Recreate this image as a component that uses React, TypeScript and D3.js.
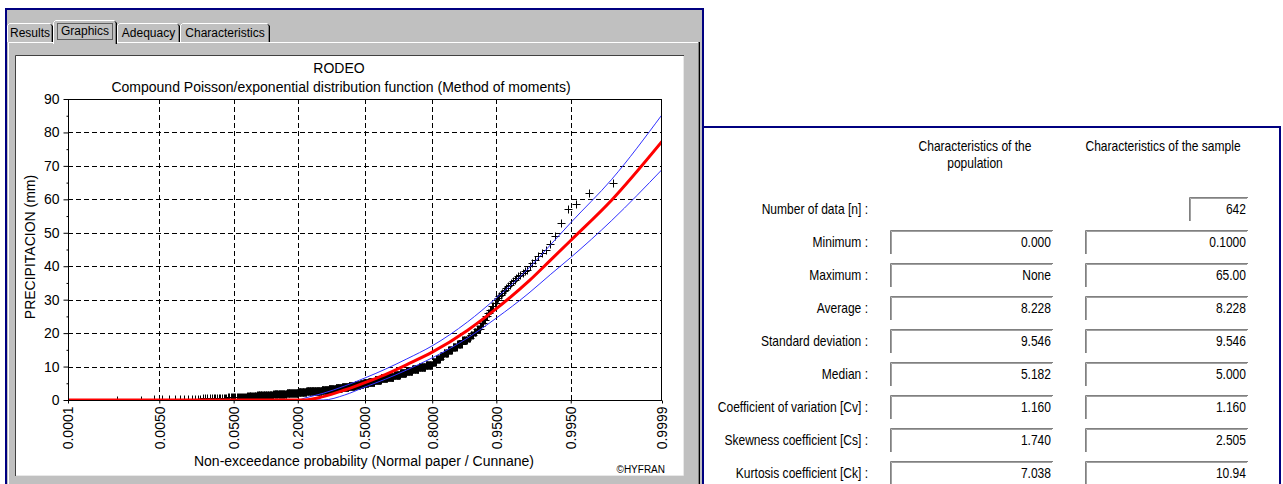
import * as React from "react"
import * as d3 from "d3"

const chartTitle = "RODEO"
const chartSubtitle =
  "Compound Poisson/exponential distribution function (Method of moments)"
const yTitle = "PRECIPITACION (mm)"
const xTitle = "Non-exceedance probability (Normal paper / Cunnane)"

const xTickProbs = [0.0001, 0.005, 0.05, 0.2, 0.5, 0.8, 0.95, 0.995, 0.9999]
const xTickLabels = [
  "0.0001",
  "0.0050",
  "0.0500",
  "0.2000",
  "0.5000",
  "0.8000",
  "0.9500",
  "0.9950",
  "0.9999",
]
const yTicks = [0, 10, 20, 30, 40, 50, 60, 70, 80, 90]
const yMinorTicks = [5, 15, 25, 35, 45, 55, 65, 75, 85]

// observed sample (mm), sorted, as value / count runs -> n = 642
const sampleValues = [
  0.1, 0.2, 0.3, 0.4, 0.5, 0.6, 0.7, 0.8, 0.9,
  1.0, 1.2, 1.4, 1.5, 1.7, 1.9, 2.0, 2.2,
  2.4, 2.6, 2.8, 3.0, 3.3, 3.6, 3.9, 4.2, 4.5, 4.8,
  5.0, 5.5, 6.0, 6.5, 7.0, 7.5, 8.0, 8.6, 9.2, 9.8, 10.5,
  11.5, 12.3, 13.1, 14.0, 14.9, 15.8, 16.8, 17.8,
  18.5, 19.3, 20.2, 21.2,
  22, 23, 24, 25, 26, 27, 28, 29,
  30, 30.5, 31, 31.5, 32, 32.5, 33, 33.5, 34, 34.5, 35, 35.5, 36, 36.5, 37,
  37.5, 38, 38.5, 39, 40, 41, 42, 43, 44, 45, 46.5, 49, 53, 57, 58.6, 62, 65,
]
const sampleCounts = [
  2, 3, 4, 4, 6, 4, 4, 3, 2,
  12, 12, 12, 12, 12, 12, 12, 12,
  20, 20, 20, 20, 20, 20, 20, 20, 17, 10,
  16, 20, 20, 20, 20, 18, 18, 17, 17, 17, 16,
  8, 8, 8, 8, 8, 8, 8, 8,
  4, 4, 4, 4,
  2, 2, 2, 2, 2, 2, 2, 2,
  1, 1, 1, 1, 1, 1, 1, 1, 1, 1, 1, 1, 1, 1, 1,
  1, 1, 1, 1, 1, 1, 1, 1, 1, 1, 1, 1, 1, 1, 1, 1, 1,
]

// fitted quantile curve and its confidence band
const curveProbs = [
  0.0001, 0.2, 0.226, 0.3, 0.4, 0.5, 0.6, 0.7, 0.8, 0.9, 0.95, 0.98, 0.99,
  0.995, 0.999, 0.9999,
]
const fittedValues = [
  0, 0, 0, 1.0, 3.0, 5.2, 7.6, 10.6, 14.3, 20.8, 27.3, 35.6, 41.9, 47.7, 59.8,
  77.3,
]
const upperValues = [
  0, 0, 0.6, 2.0, 4.2, 6.6, 9.2, 12.3, 16.2, 23.3, 30.5, 39.5, 46.5, 53.0,
  66.0, 85.3,
]
const lowerValues = [
  0, 0, 0, 0, 1.5, 3.9, 6.2, 9.0, 12.6, 18.5, 24.5, 32.0, 37.6, 42.6, 53.7,
  68.9,
]

const tabNames = ["Results", "Graphics", "Adequacy", "Characteristics"]

const statLabels = [
  "Number of data [n] :",
  "Minimum :",
  "Maximum :",
  "Average :",
  "Standard deviation :",
  "Median :",
  "Coefficient of variation [Cv] :",
  "Skewness coefficient [Cs] :",
  "Kurtosis coefficient [Ck] :",
]
const populationStats = [
  "",
  "0.000",
  "None",
  "8.228",
  "9.546",
  "5.182",
  "1.160",
  "1.740",
  "7.038",
]
const sampleStats = [
  "642",
  "0.1000",
  "65.00",
  "8.228",
  "9.546",
  "5.000",
  "1.160",
  "2.505",
  "10.94",
]

// inverse of the standard normal cdf (Acklam)
function normInv(p: number): number {
  const a = [
    -39.69683028665376, 220.9460984245205, -275.9285104469687,
    138.357751867269, -30.66479806614716, 2.506628277459239,
  ]
  const b = [
    -54.47609879822406, 161.5858368580409, -155.6989798598866,
    66.80131188771972, -13.28068155288572,
  ]
  const c = [
    -0.007784894002430293, -0.3223964580411365, -2.400758277161838,
    -2.549732539343734, 4.374664141464968, 2.938163982698783,
  ]
  const d = [
    0.007784695709041462, 0.3224671290700398, 2.445134137142996,
    3.754408661907416,
  ]
  const tail = (q: number) =>
    (((((c[0] * q + c[1]) * q + c[2]) * q + c[3]) * q + c[4]) * q + c[5]) /
    ((((d[0] * q + d[1]) * q + d[2]) * q + d[3]) * q + 1)
  if (p < 0.02425) return tail(Math.sqrt(-2 * Math.log(p)))
  if (p > 1 - 0.02425) return -tail(Math.sqrt(-2 * Math.log(1 - p)))
  const q = p - 0.5
  const r = q * q
  return (
    ((((((a[0] * r + a[1]) * r + a[2]) * r + a[3]) * r + a[4]) * r + a[5]) *
      q) /
    (((((b[0] * r + b[1]) * r + b[2]) * r + b[3]) * r + b[4]) * r + 1)
  )
}

const plot = { left: 68, right: 662, top: 99, bottom: 400 }
const font = "'Liberation Sans', Arial, sans-serif"

function render(node: SVGGElement) {
  const svg = d3.select(node)
  svg.selectAll("*").remove()

  const x = d3
    .scaleLinear()
    .domain([normInv(0.0001), normInv(0.9999)])
    .range([plot.left, plot.right])
  const y = d3.scaleLinear().domain([0, 90]).range([plot.bottom, plot.top])

  svg
    .append("defs")
    .append("clipPath")
    .attr("id", "plotclip")
    .append("rect")
    .attr("x", plot.left)
    .attr("y", plot.top)
    .attr("width", plot.right - plot.left)
    .attr("height", plot.bottom - plot.top)

  // dashed grid
  const grid = svg
    .append("g")
    .attr("stroke", "#000")
    .attr("stroke-dasharray", "5,3")
  grid
    .selectAll(".hgrid")
    .data(yTicks.slice(1, -1))
    .join("line")
    .attr("x1", plot.left)
    .attr("x2", plot.right)
    .attr("y1", (d) => Math.round(y(d)) + 0.5)
    .attr("y2", (d) => Math.round(y(d)) + 0.5)
  grid
    .selectAll(".vgrid")
    .data(xTickProbs.slice(1, -1))
    .join("line")
    .attr("y1", plot.top)
    .attr("y2", plot.bottom)
    .attr("x1", (d) => Math.round(x(normInv(d))) + 0.5)
    .attr("x2", (d) => Math.round(x(normInv(d))) + 0.5)

  // observed points, Cunnane plotting positions
  const values: number[] = []
  sampleValues.forEach((v, i) => {
    for (let k = 0; k < sampleCounts[i]; k++) values.push(v)
  })
  const n = values.length
  const points = values.map((v, i) => ({ p: (i + 1 - 0.4) / (n + 0.2), v }))

  const clipped = svg.append("g").attr("clip-path", "url(#plotclip)")
  clipped
    .append("g")
    .selectAll("path")
    .data(points)
    .join("path")
    .attr("d", (d) => {
      const px = Math.round(x(normInv(d.p))) + 0.5
      const py = Math.round(y(d.v)) + 0.5
      return `M${px - 4},${py}H${px + 4}M${px},${py - 4}V${py + 4}`
    })
    .attr("stroke", "#000")
    .attr("stroke-width", 1)
    .attr("fill", "none")

  const line = (vals: number[]) =>
    d3
      .line<number>()
      .x((_d, i) => x(normInv(curveProbs[i])))
      .y((d) => y(d))
      .curve(d3.curveMonotoneX)(vals)

  clipped
    .append("path")
    .attr("d", line(upperValues))
    .attr("fill", "none")
    .attr("stroke", "#3030ff")
    .attr("stroke-width", 1)
  clipped
    .append("path")
    .attr("d", line(lowerValues))
    .attr("fill", "none")
    .attr("stroke", "#3030ff")
    .attr("stroke-width", 1)
  clipped
    .append("path")
    .attr("d", line(fittedValues))
    .attr("fill", "none")
    .attr("stroke", "#ff0000")
    .attr("stroke-width", 3)

  // frame
  svg
    .append("rect")
    .attr("x", plot.left + 0.5)
    .attr("y", plot.top + 0.5)
    .attr("width", plot.right - plot.left - 1)
    .attr("height", plot.bottom - plot.top)
    .attr("fill", "none")
    .attr("stroke", "#000")

  // y axis
  const yAxis = svg
    .append("g")
    .attr("transform", `translate(${plot.left + 0.5},0)`)
    .call(d3.axisLeft(y).tickValues(yTicks).tickSize(5).tickPadding(4))
  yAxis.select(".domain").remove()
  yAxis
    .selectAll("text")
    .attr("font-size", 14)
    .attr("font-family", font)
    .attr("fill", "#000")
  const yMinor = svg
    .append("g")
    .attr("transform", `translate(${plot.left + 0.5},0)`)
    .call(
      d3
        .axisLeft(y)
        .tickValues(yMinorTicks)
        .tickSize(2)
        .tickFormat(() => "")
    )
  yMinor.select(".domain").remove()

  // x axis
  const xAxis = svg
    .append("g")
    .attr("transform", `translate(0,${plot.bottom + 0.5})`)
    .call(
      d3
        .axisBottom(x)
        .tickValues(xTickProbs.map(normInv))
        .tickFormat((_d, i) => xTickLabels[i])
        .tickSize(3)
    )
  xAxis.select(".domain").remove()
  xAxis
    .selectAll("text")
    .attr("font-size", 14)
    .attr("font-family", font)
    .attr("fill", "#000")
    .attr("transform", "rotate(-90)")
    .attr("text-anchor", "end")
    .attr("x", -6)
    .attr("y", 0)
    .attr("dy", "0.35em")

  // titles
  svg
    .append("text")
    .attr("x", 339)
    .attr("y", 73)
    .attr("text-anchor", "middle")
    .attr("font-size", 14)
    .attr("font-family", font)
    .text(chartTitle)
  svg
    .append("text")
    .attr("x", 341)
    .attr("y", 92)
    .attr("text-anchor", "middle")
    .attr("font-size", 14)
    .attr("font-family", font)
    .text(chartSubtitle)
  svg
    .append("text")
    .attr("transform", "translate(35,247) rotate(-90)")
    .attr("text-anchor", "middle")
    .attr("font-size", 14)
    .attr("font-family", font)
    .text(yTitle)
  svg
    .append("text")
    .attr("x", 364)
    .attr("y", 466)
    .attr("text-anchor", "middle")
    .attr("font-size", 14)
    .attr("font-family", font)
    .text(xTitle)
  svg
    .append("text")
    .attr("x", 665)
    .attr("y", 473)
    .attr("text-anchor", "end")
    .attr("font-size", 10)
    .attr("font-family", font)
    .text("\u00a9HYFRAN")
}

const tabBoxes = [
  { x0: 7, x1: 53, top: 23 },
  { x0: 53, x1: 117, top: 20 },
  { x0: 117, x1: 180, top: 23 },
  { x0: 180, x1: 270, top: 23 },
]

function Tab({ i }: { i: number }) {
  const t = tabBoxes[i]
  const selected = i === 1
  const bottom = selected ? 44 : 42
  return (
    <g>
      {selected && (
        <rect
          x={t.x0}
          y={t.top}
          width={t.x1 - t.x0}
          height={bottom - t.top}
          fill="#c0c0c0"
        />
      )}
      <path
        d={`M${t.x0 + 0.5},${bottom}V${t.top + 2.5}L${t.x0 + 2.5},${t.top + 0.5}H${t.x1 - 2.5}`}
        fill="none"
        stroke="#fff"
      />
      <path
        d={`M${t.x1 - 1.5},${t.top + 1.5}V${bottom}`}
        fill="none"
        stroke="#808080"
      />
      <path
        d={`M${t.x1 - 2},${t.top + 1.5}L${t.x1 - 0.5},${t.top + 3}V${bottom}`}
        fill="none"
        stroke="#000"
      />
      <text
        x={(t.x0 + t.x1) / 2}
        y={selected ? 35 : 37}
        textAnchor="middle"
        fontSize={12}
        fill="#000"
      >
        {tabNames[i]}
      </text>
      {selected && (
        <rect
          x={t.x0 + 4.5}
          y={t.top + 3.5}
          width={t.x1 - t.x0 - 9}
          height={16}
          fill="none"
          stroke="#000"
          strokeDasharray="1,1"
        />
      )}
    </g>
  )
}

const rowY = [209, 242, 275, 308, 341, 374, 407, 440, 473]

// condensed text (the dialog uses a narrow sans face)
function NarrowText({
  x,
  y,
  anchor,
  children,
}: {
  x: number
  y: number
  anchor: "start" | "middle" | "end"
  children: React.ReactNode
}) {
  return (
    <g transform={`translate(${x},${y}) scale(0.86,1)`}>
      <text
        x={0}
        y={0}
        textAnchor={anchor}
        fontSize={14}
        fontFamily={font}
        fill="#000"
      >
        {children}
      </text>
    </g>
  )
}

function StatBox({
  x0,
  x1,
  yc,
  value,
}: {
  x0: number
  x1: number
  yc: number
  value: string
}) {
  const top = yc - 12
  return (
    <g>
      <path
        d={`M${x0 + 0.5},${top + 24}V${top + 0.5}H${x1}`}
        fill="none"
        stroke="#808080"
      />
      <path
        d={`M${x0 + 1.5},${top + 24}V${top + 1.5}H${x1 - 1}`}
        fill="none"
        stroke="#a0a0a0"
      />
      <NarrowText x={x1 - 2} y={yc + 5} anchor="end">
        {value}
      </NarrowText>
    </g>
  )
}

export default function App(): React.JSX.Element {
  const gRef = React.useRef<SVGGElement>(null)

  React.useEffect(() => {
    if (!gRef.current) return
    render(gRef.current)
  }, [])

  return (
    <svg
      width={1283}
      height={484}
      style={{ position: "absolute", left: 0, top: 0 }}
      fontFamily={font}
    >
      <rect width={1283} height={484} fill="#fff" />

      {/* left window */}
      <rect
        x={6}
        y={9}
        width={697}
        height={490}
        fill="#c0c0c0"
        stroke="#000080"
        strokeWidth={2}
      />
      {/* tab panel */}
      <path d="M8.5,490V42.5H698" fill="none" stroke="#fff" />
      <path d="M698.5,42V490" fill="none" stroke="#808080" />
      <path d="M699.5,42V490" fill="none" stroke="#000" />
      {tabNames.map((_t, i) => (
        <Tab key={i} i={i} />
      ))}
      {/* chart area */}
      <rect x={16} y={56} width={667} height={419} fill="#fff" />
      <path d="M15.5,476V55.5H684" fill="none" stroke="#404040" />
      <path d="M16,475.5H683.5V56" fill="none" stroke="#e8e8e8" />
      <g ref={gRef} />

      {/* right panel */}
      <rect
        x={703}
        y={127}
        width={577}
        height={400}
        fill="#fff"
        stroke="#000080"
        strokeWidth={2}
      />
      <NarrowText x={975} y={151} anchor="middle">
        Characteristics of the
      </NarrowText>
      <NarrowText x={975} y={168} anchor="middle">
        population
      </NarrowText>
      <NarrowText x={1163} y={151} anchor="middle">
        Characteristics of the sample
      </NarrowText>
      {statLabels.map((label, i) => (
        <g key={label}>
          <NarrowText x={868} y={rowY[i] + 5} anchor="end">
            {label}
          </NarrowText>
          {i > 0 && (
            <StatBox
              x0={890}
              x1={1053}
              yc={rowY[i]}
              value={populationStats[i]}
            />
          )}
          {i > 0 ? (
            <StatBox x0={1085} x1={1248} yc={rowY[i]} value={sampleStats[i]} />
          ) : (
            <StatBox x0={1189} x1={1248} yc={rowY[i]} value={sampleStats[i]} />
          )}
        </g>
      ))}
    </svg>
  )
}
